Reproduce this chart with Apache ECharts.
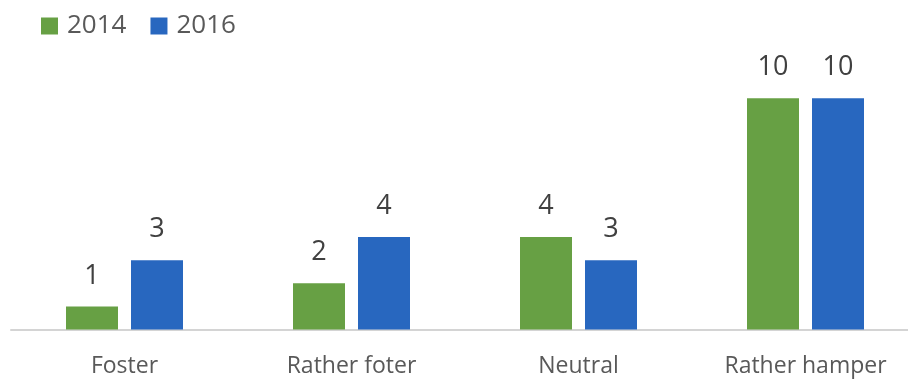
<!DOCTYPE html>
<html>
<head>
<meta charset="utf-8">
<style>
  html, body { margin: 0; padding: 0; background: #fff; }
  #chart { width: 908px; height: 380px; }
</style>
<script src="https://cdn.jsdelivr.net/npm/echarts@6/dist/echarts.min.js"></script>
</head>
<body>
<div id="chart"></div>
<script>
// Chart data
const categories = ['Foster', 'Rather foter', 'Neutral', 'Rather hamper'];
const seriesNames = ['2014', '2016'];
const values2014 = [1, 2, 4, 10];
const values2016 = [3, 4, 3, 10];

const FONT = '"Open Sans", sans-serif';
const TEXT = '#595959';
const colors = ['#67A044', '#2867BF'];

const chart = echarts.init(document.getElementById('chart'), null, { renderer: 'canvas' });

const labelStyle = {
  show: true,
  position: 'top',
  distance: 17,
  color: '#404040',
  fontFamily: FONT,
  fontSize: 27
};

chart.setOption({
  animation: false,
  color: colors,
  legend: {
    left: 36,
    top: 8,
    itemWidth: 17,
    itemHeight: 17,
    itemGap: 24,
    icon: 'rect',
    textStyle: { color: TEXT, fontFamily: FONT, fontSize: 26, padding: [0, 0, 0, 4] },
    data: seriesNames
  },
  // last category is allowed to run past the right edge
  grid: { left: 11, width: 908, top: 52, bottom: 50.5, containLabel: false, outerBoundsMode: 'none' },
  xAxis: {
    type: 'category',
    data: categories,
    axisLine: { lineStyle: { color: '#d4d4d4', width: 2 } },
    axisTick: { show: false },
    axisLabel: { color: TEXT, fontFamily: FONT, fontSize: 23, margin: 25 }
  },
  yAxis: {
    type: 'value',
    min: 0,
    max: 12,
    interval: 2,
    show: false,
    splitLine: { show: false }
  },
  series: [
    { name: seriesNames[0], type: 'bar', data: values2014, barWidth: 52, barGap: '25%', label: labelStyle },
    { name: seriesNames[1], type: 'bar', data: values2016, barWidth: 52, barGap: '25%', label: labelStyle }
  ]
});
</script>
</body>
</html>
